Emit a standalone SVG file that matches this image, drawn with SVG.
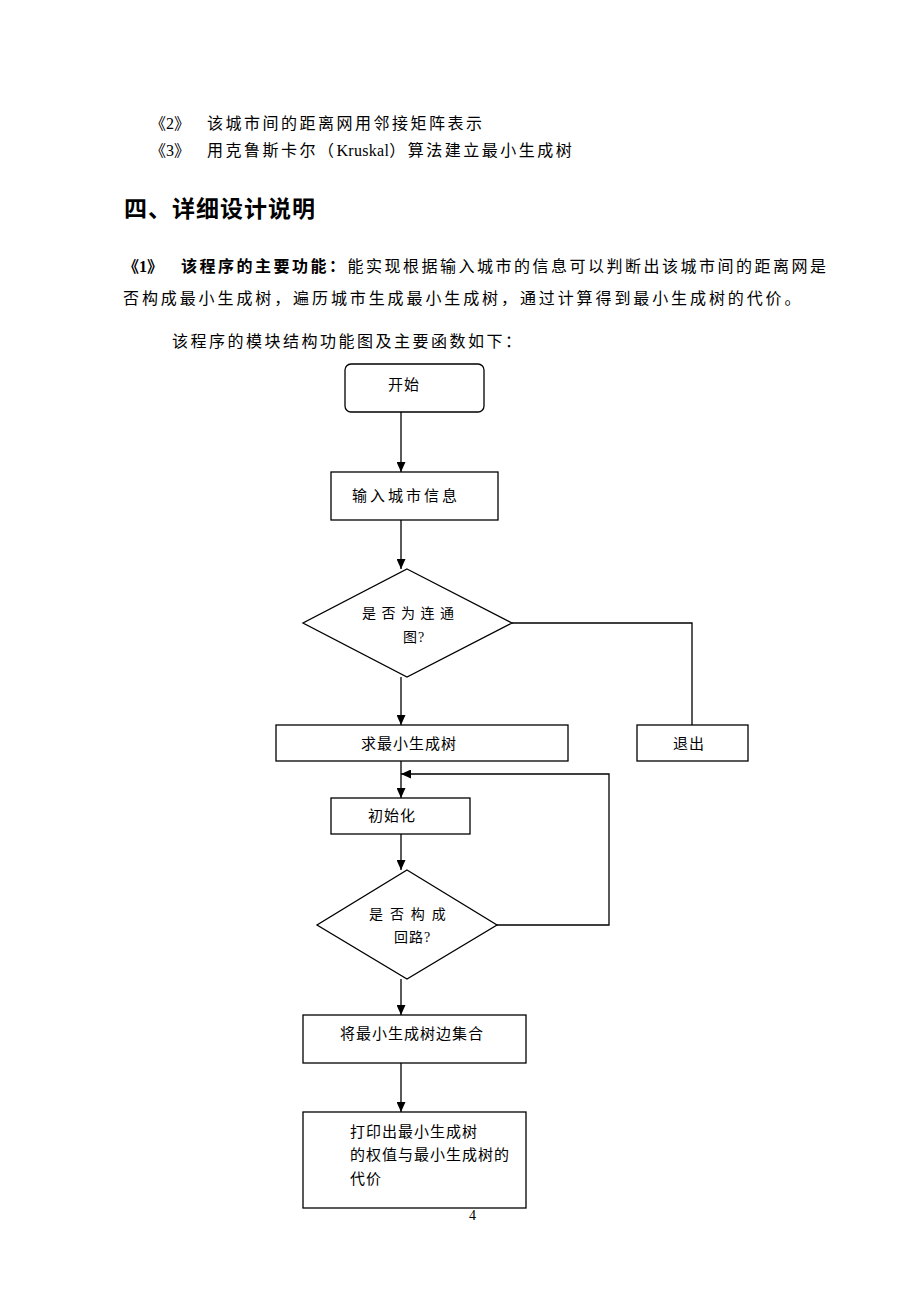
<svg xmlns="http://www.w3.org/2000/svg" width="920" height="1302" viewBox="0 0 920 1302">
<style>
.t{font-family:"Liberation Serif","Noto Sans CJK SC",serif;font-size:16px;fill:#000;dominant-baseline:central}
.p{letter-spacing:2.5px}
.b{font-weight:700}
.h{font-family:"Noto Sans CJK SC",sans-serif;font-size:23px;font-weight:700;letter-spacing:1px;dominant-baseline:central}
.f{font-family:"Liberation Serif","Noto Sans CJK SC",serif;font-size:15px;letter-spacing:1px;dominant-baseline:central}
.box{fill:#fff;stroke:#000;stroke-width:1.3}
.ln{fill:none;stroke:#000;stroke-width:1.3}
</style>
<defs>
<marker id="ah" markerUnits="userSpaceOnUse" markerWidth="10" markerHeight="9" refX="10" refY="4.5" orient="auto">
<path d="M0,0 L10,4.5 L0,9 z" fill="#000"/>
</marker>
</defs>
<rect width="920" height="1302" fill="#fff"/>
<g id="header">
<text class="t" x="150" y="123">《2》</text>
<text class="t p" x="207" y="123">该城市间的距离网用邻接矩阵表示</text>
<text class="t" x="150" y="150">《3》</text>
<text class="t p" x="207" y="150">用克鲁斯卡尔（<tspan style="letter-spacing:0.3px">Kruskal</tspan>）算法建立最小生成树</text>
<text class="h" x="124" y="207">四、详细设计说明</text>
<text class="t b" x="123" y="266">《1》</text>
<text class="t p" x="181" y="266"><tspan class="b">该程序的主要功能：</tspan>能实现根据输入城市的信息可以判断出该城市间的距离网是</text>
<text class="t" x="123" y="298" style="letter-spacing:2.9px">否构成最小生成树，遍历城市生成最小生成树，通过计算得到最小生成树的代价。</text>
<text class="t p" x="172" y="341">该程序的模块结构功能图及主要函数如下：</text>
</g>
<g id="connectors">
<path class="ln" d="M401,412 V472" marker-end="url(#ah)"/>
<path class="ln" d="M401,520 V569" marker-end="url(#ah)"/>
<path class="ln" d="M401,677 V725" marker-end="url(#ah)"/>
<path class="ln" d="M512,623 H692 V725"/>
<path class="ln" d="M401,761 V798" marker-end="url(#ah)"/>
<path class="ln" d="M497,925 H609 V774 H401" marker-end="url(#ah)"/>
<path class="ln" d="M401,834 V870" marker-end="url(#ah)"/>
<path class="ln" d="M401,979 V1015" marker-end="url(#ah)"/>
<path class="ln" d="M401,1063 V1112" marker-end="url(#ah)"/>
</g>
<g id="start">
<rect class="box" x="345" y="364" width="139" height="48" rx="6"/>
<text class="f" x="388" y="385">开始</text>
</g>
<g id="input">
<rect class="box" x="331" y="472" width="167" height="48"/>
<text class="f" x="352" y="496" style="letter-spacing:3px">输入城市信息</text>
</g>
<g id="connected">
<polygon class="box" points="407,569 512,623 407,677 303,623"/>
<text class="f" x="362" y="613" style="font-size:14px;letter-spacing:1px">是 否 为 连 通</text>
<text class="f" x="403" y="637" style="font-size:14px">图?</text>
</g>
<g id="mst">
<rect class="box" x="276" y="725" width="292" height="36"/>
<text class="f" x="361" y="744">求最小生成树</text>
</g>
<g id="exit">
<rect class="box" x="637" y="725" width="111" height="36"/>
<text class="f" x="673" y="744">退出</text>
</g>
<g id="init">
<rect class="box" x="331" y="798" width="139" height="36"/>
<text class="f" x="368" y="816">初始化</text>
</g>
<g id="cycle">
<polygon class="box" points="407,870 497,925 407,979 317,925"/>
<text class="f" x="369" y="914" style="font-size:14px;letter-spacing:1.7px">是 否 构 成</text>
<text class="f" x="394" y="937" style="font-size:14px">回路?</text>
</g>
<g id="collect">
<rect class="box" x="303" y="1015" width="223" height="48"/>
<text class="f" x="340" y="1034">将最小生成树边集合</text>
</g>
<g id="print">
<rect class="box" x="303" y="1112" width="223" height="96"/>
<text class="f" x="350" y="1132">打印出最小生成树</text>
<text class="f" x="350" y="1155">的权值与最小生成树的</text>
<text class="f" x="350" y="1179">代价</text>
</g>
<text class="t" x="469" y="1215" style="font-size:14px">4</text>
</svg>
